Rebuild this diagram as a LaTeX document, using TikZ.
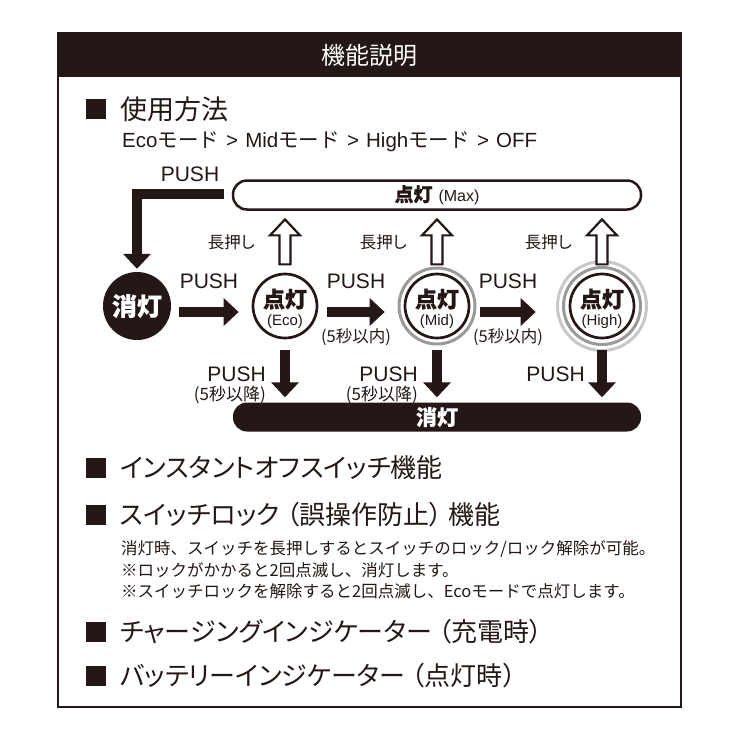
\documentclass[tikz,border=0pt]{standalone}
\usepackage{fontspec}
\setmainfont{Noto Sans CJK JP}[RawFeature=+palt]
\newfontfamily\jpf{Noto Sans CJK JP}
\newfontfamily\blk{Noto Sans CJK JP}[BoldFeatures={FakeBold=0.6}]
\newfontfamily\lat{Liberation Sans}
\usetikzlibrary{arrows.meta,calc}
\definecolor{ink}{HTML}{231815}
\definecolor{ringA}{HTML}{9A9A9A}
\definecolor{ringB}{HTML}{C8C8C8}
\newcommand{\fsz}[1]{\fontsize{#1}{#1}\selectfont}
\newcommand{\gt}{\hspace{0.35em}>\hspace{0.35em}}
\newcommand{\lp}{\hspace{0.25em}（}
\newcommand{\rp}{）\hspace{0.25em}}
\begin{document}
\begin{tikzpicture}[x=1pt,y=-1pt,
  bulletsq/.style={fill=ink,minimum size=20,inner sep=0,draw=none},
  headtxt/.style={anchor=west,inner sep=0,text=ink,font=\fsz{26}},
  smalltxt/.style={anchor=west,inner sep=0,text=ink,font=\jpf\fsz{16.5}},
  lamp/.style={circle,draw=ink,line width=2.7,fill=white,minimum size=64,inner sep=0},
  fat/.style={draw=ink,line width=10,-{Triangle[width=27pt,length=15pt]}},
  pushlbl/.style={inner sep=0,text=ink,font=\lat\fsz{21}},
  paren/.style={inner sep=0,text=ink,font=\fsz{16.5}},
  hollow/.pic={\draw[ink,line width=2.2,fill=white,line join=miter]
     (-5.5,22) -- (-5.5,-7) -- (-15,-7) -- (0,-23) -- (15,-7) -- (5.5,-7) -- (5.5,22) -- cycle;}
]
\useasboundingbox (0,0) rectangle (740,740);
\fill[white] (0,0) rectangle (740,740);
% frame and header
\draw[ink,line width=2] (58,33) rectangle (681,707);
\fill[ink] (58,33) rectangle (681,77);
\node[text=white,font=\fsz{24},inner sep=0] (title) at (369.5,55) {機能説明};

% section 1
\node[bulletsq] (b1) at (96,109) {};
\node[headtxt,font=\fsz{27}] (h1) at (120,109) {使用方法};
\node[anchor=west,inner sep=0,text=ink,font=\fsz{20.5}] (seq) at (122,142)
  {{\lat Eco}{\jpf モード}{\lat\gt Mid}{\jpf モード}{\lat\gt High}{\jpf モード}{\lat\gt OFF}};

% boxes
\node[draw=ink,line width=2.5,rounded corners=14,minimum width=408,minimum height=29,inner sep=0] (maxb) at (437,195) {};
\node[inner sep=0,text=ink] (maxt) at (maxb) {{\blk\bfseries\fsz{19}点灯}\hspace{6pt}{\lat\fsz{16}(Max)}};
\node[fill=ink,rounded corners=14,minimum width=408,minimum height=29,inner sep=0,text=white,font=\blk\bfseries\fsz{21}] (offb) at (437,417) {消灯};

% circles
\node[circle,fill=ink,minimum size=68,inner sep=0,text=white,font=\blk\bfseries\fsz{25}] (off) at (137,306) {消灯};
\node[lamp] (eco) at (285,306) {};
\node[lamp] (mid) at (437,306) {};
\node[lamp] (high) at (602,306) {};
\draw[ringA,line width=3] (mid) circle (38);
\draw[ringA,line width=3] (high) circle (38.5);
\draw[ringB,line width=3] (high) circle (44.5);
\foreach \n/\t in {eco/Eco,mid/Mid,high/High}{
  \node[inner sep=0,text=ink,font=\blk\bfseries\fsz{22}] (\n a) at ($(\n)+(0,-7)$) {点灯};
  \node[inner sep=0,text=ink,font=\lat\fsz{15}] (\n b) at ($(\n)+(0,16)$) {(\t)};
}

% top L arrow
\draw[fat,line join=miter] ($(maxb.west)+(-8,-1)$) -| ($(off.north)+(0,-3)$);
\node[pushlbl] (p0) at (190,174) {PUSH};

% right arrows
\draw[fat] ($(off.east)+(8,6)$) coordinate (r1s) -- ($(eco.west)+(-13,6)$) coordinate (r1e);
\draw[fat] ($(eco.east)+(9,6)$) coordinate (r2s) -- ($(mid.west)+(-19,6)$) coordinate (r2e);
\draw[fat] ($(mid.east)+(10,6)$) coordinate (r3s) -- ($(high.west)+(-33,6)$) coordinate (r3e);
\node[pushlbl] (p1) at ($(r1s)!0.5!(r1e)+(0,-31)$) {PUSH};
\node[pushlbl] (p2) at ($(r2s)!0.5!(r2e)+(0,-31)$) {PUSH};
\node[pushlbl] (p3) at ($(r3s)!0.5!(r3e)+(0,-31)$) {PUSH};
\node[paren] (q2) at ($(r2s)!0.5!(r2e)+(0,25)$) {(5秒以内)};
\node[paren] (q3) at ($(r3s)!0.5!(r3e)+(0,25)$) {(5秒以内)};

% hollow up arrows (long press)
\foreach \n in {eco,mid,high}{
  \coordinate (u\n) at ($(\n)!0.5!(maxb.south -| \n)+(0,-16)$);
  \pic at (u\n) {hollow};
  \node[anchor=east,inner sep=0,text=ink,font=\fsz{16.5}] (l\n) at ($(u\n)+(-30,0)$) {長押し};
}

% down arrows
\foreach \n in {eco,mid,high}{
  \draw[fat] ($(\n)+(0,44)$) coordinate (d\n) -- ($(offb.north -| \n)+(0,-5)$);
}
\node[pushlbl,anchor=east] (pd1) at ($(deco)+(-19,24)$) {PUSH};
\node[paren,anchor=east,font=\fsz{17}] (qd1) at ($(deco)+(-19,45)$) {(5秒以降)};
\node[pushlbl,anchor=east] (pd2) at ($(dmid)+(-19,24)$) {PUSH};
\node[paren,anchor=east,font=\fsz{17}] (qd2) at ($(dmid)+(-19,45)$) {(5秒以降)};
\node[pushlbl,anchor=east] (pd3) at ($(dhigh)+(-17,24)$) {PUSH};

% other sections
\node[bulletsq] (b2) at (96,468) {};
\node[headtxt] (h2) at (120,468) {インスタントオフスイッチ機能};
\node[bulletsq] (b3) at (96,515) {};
\node[headtxt] (h3) at (120,515) {スイッチロック\lp 誤操作防止\rp 機能};
\node[smalltxt] (s1) at (121,549) {消灯時、スイッチを長押しするとスイッチのロック/ロック解除が可能。};
\node[smalltxt] (s2) at (121,570) {※ロックがかかると2回点滅し、消灯します。};
\node[smalltxt] (s3) at (121,591) {※スイッチロックを解除すると2回点滅し、Ecoモードで点灯します。};
\node[bulletsq] (b4) at (96,632) {};
\node[headtxt] (h4) at (120,632) {チャージングインジケーター\lp 充電時）};
\node[bulletsq] (b5) at (96,676) {};
\node[headtxt] (h5) at (120,676) {バッテリーインジケーター\lp 点灯時）};
\end{tikzpicture}
\end{document}
